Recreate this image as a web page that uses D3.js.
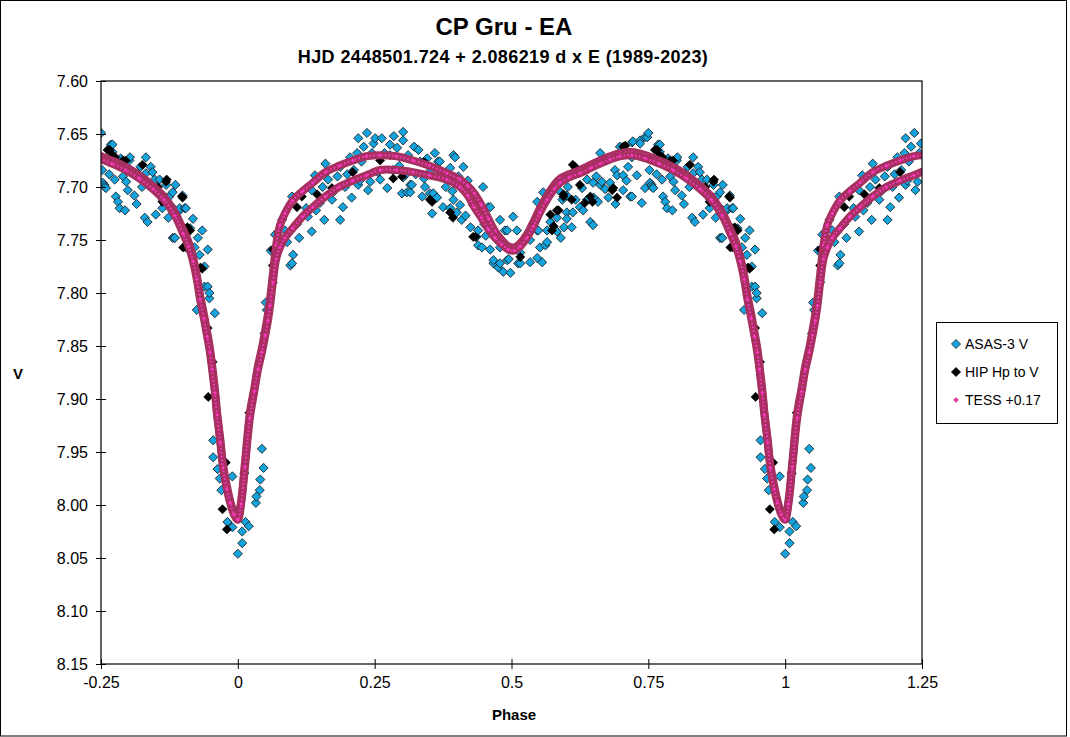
<!DOCTYPE html>
<html>
<head>
<meta charset="utf-8">
<script src="https://cdn.jsdelivr.net/npm/d3@7"></script>
<style>
  body { margin: 0; background: #fff; }
  svg { display: block; font-family: "Liberation Sans", Arial, sans-serif; }
</style>
</head>
<body>
<div id="chart"></div>
<script>

// axis ticks
var xTicks = [-0.25, 0, 0.25, 0.5, 0.75, 1, 1.25];
var yTicks = [7.60, 7.65, 7.70, 7.75, 7.80, 7.85, 7.90, 7.95, 8.00, 8.05, 8.10, 8.15];
var seriesNames = ["ASAS-3 V", "HIP Hp to V", "TESS +0.17"];

// ASAS-3 V, [phase 0..1, V]  (plotted again at phase-1 / phase+1)
var asas = [
  [0.000,8.046],[0.008,8.036],[0.008,8.025],[0.014,8.016],[0.020,8.020],[0.012,7.970],[0.033,7.998],
  [0.034,7.992],[0.040,7.986],[0.041,7.976],[0.047,7.965],[0.044,7.947],[0.049,7.838],[0.051,7.809],
  [0.053,7.816],[0.064,7.790],[0.955,7.939],[0.955,7.955],[0.963,7.966],[0.967,7.975],[0.970,7.986],
  [0.981,8.016],[0.990,8.021],[0.990,7.973],[0.958,7.819],[0.948,7.805],[0.945,7.794],[0.939,7.775],
  [0.945,7.759],[0.930,7.764],[0.921,7.757],[0.927,7.748],[0.913,7.739],[0.925,7.816],[0.885,7.748],
  [0.894,7.722],[0.903,7.720],[0.882,7.720],[0.074,7.742],[0.068,7.745],[0.086,7.741],[0.101,7.764],
  [0.099,7.772],[0.081,7.731],[0.096,7.774],[0.141,7.689],[0.099,7.709],[0.117,7.705],[0.135,7.703],
  [0.135,7.742],[0.187,7.731],[0.192,7.719],[0.208,7.710],[0.220,7.698],[0.187,7.681],[0.218,7.668],
  [0.220,7.654],[0.236,7.649],[0.251,7.654],[0.263,7.654],[0.248,7.659],[0.302,7.648],[0.302,7.656],
  [0.278,7.660],[0.291,7.663],[0.311,7.670],[0.278,7.670],[0.223,7.694],[0.242,7.695],[0.238,7.703],
  [0.260,7.693],[0.273,7.701],[0.300,7.706],[0.315,7.705],[0.318,7.698],[0.346,7.673],[0.369,7.676],
  [0.397,7.672],[0.412,7.681],[0.388,7.682],[0.337,7.709],[0.351,7.706],[0.364,7.710],[0.375,7.719],
  [0.355,7.725],[0.388,7.720],[0.406,7.717],[0.430,7.717],[0.448,7.700],[0.461,7.719],[0.436,7.747],
  [0.439,7.755],[0.461,7.759],[0.467,7.772],[0.485,7.780],[0.479,7.731],[0.492,7.741],[0.479,7.757],
  [0.155,7.700],[0.165,7.693],[0.172,7.712],[0.150,7.715],[0.125,7.720],[0.108,7.735],[0.160,7.678],
  [0.200,7.688],[0.205,7.672],[0.230,7.662],[0.268,7.668],[0.285,7.652],[0.295,7.680],[0.325,7.688],
  [0.330,7.665],[0.340,7.692],[0.360,7.668],[0.380,7.700],[0.420,7.694],[0.425,7.738],[0.450,7.735],
  [0.470,7.745],[0.495,7.768],[0.333,7.676],[0.366,7.676],[0.394,7.670],[0.302,7.691],[0.315,7.698],
  [0.309,7.705],[0.357,7.706],[0.373,7.687],[0.394,7.712],[0.400,7.724],[0.409,7.731],[0.457,7.719],
  [0.439,7.741],[0.446,7.757],[0.503,7.728],[0.488,7.741],[0.479,7.750],[0.467,7.769],[0.479,7.772],
  [0.492,7.769],[0.476,7.776],[0.498,7.781],[0.512,7.772],[0.516,7.762],[0.510,7.741],[0.534,7.750],
  [0.547,7.767],[0.534,7.771],[0.556,7.771],[0.552,7.757],[0.565,7.752],[0.549,7.741],[0.565,7.741],
  [0.558,7.705],[0.547,7.714],[0.583,7.742],[0.583,7.729],[0.601,7.724],[0.612,7.724],[0.601,7.730],
  [0.625,7.719],[0.629,7.701],[0.638,7.693],[0.649,7.696],[0.665,7.695],[0.680,7.696],[0.677,7.710],
  [0.644,7.733],[0.649,7.736],[0.662,7.668],[0.547,7.741],[0.562,7.755],[0.516,7.772],[0.586,7.703],
  [0.593,7.712],[0.601,7.708],[0.603,7.700],[0.638,7.712],[0.631,7.722],[0.650,7.710],[0.658,7.714],
  [0.662,7.698],[0.704,7.703],[0.720,7.709],[0.738,7.715],[0.693,7.689],[0.689,7.684],[0.713,7.681],
  [0.698,7.662],[0.720,7.658],[0.735,7.656],[0.750,7.649],[0.748,7.653],[0.768,7.660],[0.771,7.667],
  [0.786,7.673],[0.802,7.675],[0.832,7.672],[0.822,7.681],[0.844,7.686],[0.848,7.693],[0.869,7.698],
  [0.886,7.698],[0.881,7.705],[0.850,7.703],[0.869,7.710],[0.899,7.708],[0.894,7.720],[0.905,7.720],
  [0.830,7.729],[0.835,7.733],[0.881,7.748],[0.939,7.794],[0.948,7.800],[0.777,7.709],[0.784,7.720],
  [0.759,7.701],[0.744,7.653],[0.722,7.657],[0.735,7.659],[0.771,7.660],[0.720,7.672],[0.803,7.672],
  [0.785,7.676],[0.817,7.687],[0.832,7.687],[0.841,7.681],[0.836,7.696],[0.857,7.693],[0.875,7.709],
  [0.884,7.748],[0.704,7.689],[0.729,7.689],[0.753,7.696],[0.775,7.693],[0.796,7.695],[0.811,7.708],
  [0.781,7.714],[0.794,7.722],[0.799,7.703],[0.717,7.709],[0.744,7.701],[0.757,7.700],[0.850,7.726],
  [0.752,7.684],[0.756,7.698],[0.815,7.716],[0.862,7.720],[0.610,7.738],[0.590,7.748],
  [0.112,7.748],[0.128,7.728],[0.143,7.722],[0.158,7.731],[0.176,7.704],[0.182,7.690],[0.196,7.700],
  [0.212,7.684],[0.226,7.676],[0.245,7.668],[0.256,7.686],[0.283,7.684],[0.307,7.688],[0.322,7.662],
  [0.342,7.700],[0.353,7.684],[0.378,7.690],[0.392,7.704],[0.403,7.690],[0.416,7.727],[0.441,7.725],
  [0.453,7.746],[0.571,7.733],[0.596,7.738],[0.617,7.712],[0.655,7.690],[0.671,7.702],[0.690,7.716],
  [0.710,7.694],[0.765,7.688],[0.790,7.690],[0.825,7.700],[0.858,7.708],[0.873,7.729],[0.918,7.730],
  [0.935,7.741],[0.060,7.760],[0.090,7.752]
];

// HIP Hp converted to V
var hip = [
  [0.945,7.833],[0.954,7.865],[0.946,7.898],[0.021,7.913],[0.978,7.960],[0.972,8.004],[0.980,8.023],
  [0.900,7.757],[0.935,7.777],[0.064,7.774],[0.064,7.759],[0.117,7.709],[0.108,7.719],[0.172,7.701],
  [0.210,7.686],[0.260,7.675],[0.284,7.692],[0.339,7.677],[0.351,7.712],[0.388,7.724],[0.393,7.729],
  [0.430,7.747],[0.342,7.677],[0.355,7.714],[0.434,7.747],[0.516,7.766],[0.574,7.741],[0.583,7.722],
  [0.595,7.707],[0.610,7.712],[0.612,7.679],[0.625,7.698],[0.634,7.715],[0.684,7.703],[0.616,7.681],
  [0.686,7.701],[0.693,7.710],[0.704,7.662],[0.762,7.665],[0.790,7.675],[0.826,7.679],[0.854,7.700],
  [0.869,7.695],[0.863,7.712],[0.899,7.710],[0.903,7.739],[0.913,7.741],[0.905,7.757],[0.932,7.776],
  [0.586,7.722],[0.571,7.726],[0.577,7.737],[0.595,7.709],[0.644,7.709],[0.648,7.714],[0.708,7.661],
  [0.766,7.665],[0.771,7.670],[0.908,7.738],[0.776,7.672],[0.795,7.675],[0.870,7.693],[0.862,7.714],
  [0.898,7.709],[0.145,7.707],[0.300,7.690],[0.455,7.735]
];

// TESS +0.17, two tracks of the folded curve
var tessPhase = [0.000,0.006,0.013,0.022,0.030,0.037,0.044,0.050,0.055,0.059,0.064,0.070,0.077,0.086,
  0.100,0.118,0.137,0.160,0.185,0.210,0.235,0.260,0.290,0.320,0.350,0.382,0.406,0.420,0.432,0.445,0.458,
  0.470,0.482,0.494,0.505,0.516,0.528,0.540,0.552,0.565,0.578,0.589,0.605,0.625,0.645,0.662,0.680,0.698,
  0.720,0.745,0.770,0.795,0.820,0.845,0.865,0.885,0.900,0.910,0.918,0.925,0.931,0.938,0.944,0.949,0.953,
  0.958,0.962,0.968,0.973,0.980,0.986,0.993];
var tessUpper = [8.012,7.996,7.960,7.913,7.890,7.868,7.852,7.835,7.820,7.805,7.782,7.755,7.736,7.725,
  7.713,7.704,7.696,7.686,7.680,7.675,7.671,7.670,7.671,7.675,7.680,7.687,7.693,7.699,7.706,7.717,7.730,
  7.742,7.750,7.756,7.757,7.753,7.745,7.733,7.720,7.708,7.698,7.692,7.688,7.684,7.679,7.675,7.671,7.668,
  7.667,7.670,7.675,7.681,7.689,7.699,7.709,7.724,7.740,7.752,7.766,7.783,7.802,7.820,7.837,7.852,7.868,
  7.890,7.912,7.938,7.962,7.982,7.996,8.007];
var tessLower = [8.014,7.999,7.964,7.918,7.893,7.872,7.856,7.840,7.826,7.812,7.790,7.768,7.757,7.748,
  7.739,7.728,7.719,7.709,7.700,7.694,7.689,7.684,7.684,7.686,7.689,7.693,7.700,7.708,7.719,7.729,7.740,
  7.748,7.754,7.759,7.760,7.756,7.748,7.737,7.724,7.712,7.702,7.696,7.691,7.687,7.682,7.678,7.674,7.671,
  7.670,7.673,7.678,7.684,7.692,7.702,7.712,7.727,7.744,7.756,7.770,7.787,7.806,7.824,7.841,7.856,7.872,
  7.894,7.915,7.941,7.965,7.985,7.998,8.009];

var asasFill = "#14a3dc";
var tessDark = "#a6305f";
var tessPink = "#ff38c8";

var svg = d3.select("#chart").append("svg")
  .attr("width", 1070)
  .attr("height", 737);

// outer chart frame
svg.append("rect")
  .attr("x", 0.5).attr("y", 0.5)
  .attr("width", 1066).attr("height", 735.5)
  .attr("fill", "#fff").attr("stroke", "#000");

var x = d3.scaleLinear().domain([-0.25, 1.25]).range([101, 922]);
var y = d3.scaleLinear().domain([7.60, 8.15]).range([81, 664]);

svg.append("clipPath").attr("id", "plotclip")
  .append("rect").attr("x", 101).attr("y", 81).attr("width", 821).attr("height", 583);

// repeat a folded point at phase-1 and phase+1 inside the shown range
function fold(list, lo, hi){
  var out = [];
  list.forEach(function(d){
    [-1, 0, 1].forEach(function(k){
      var p = d[0] + k;
      if(p >= lo && p <= hi) out.push([p, d[1]]);
    });
  });
  return out.sort(function(a, b){ return a[0] - b[0]; });
}

function diamond(r){
  return "M0," + (-r) + "L" + r + ",0L0," + r + "L" + (-r) + ",0Z";
}

var plot = svg.append("g").attr("clip-path", "url(#plotclip)");

// ASAS
plot.selectAll(".asas")
  .data(fold(asas, -0.25, 1.25))
  .enter().append("path")
  .classed("asas", true)
  .attr("d", diamond(4.6))
  .attr("transform", function(d){ return "translate(" + x(d[0]) + "," + y(d[1]) + ")"; })
  .attr("fill", asasFill)
  .attr("stroke", "#111")
  .attr("stroke-width", 0.8);

// HIP
plot.selectAll(".hip")
  .data(fold(hip, -0.25, 1.25))
  .enter().append("path")
  .classed("hip", true)
  .attr("d", diamond(4.6))
  .attr("transform", function(d){ return "translate(" + x(d[0]) + "," + y(d[1]) + ")"; })
  .attr("fill", "#000")
  .attr("stroke", "#000")
  .attr("stroke-width", 0.6);

// TESS tracks
var line = d3.line()
  .x(function(d){ return x(d[0]); })
  .y(function(d){ return y(d[1]); })
  .curve(d3.curveCatmullRom);

[tessUpper, tessLower].forEach(function(mags){
  var pts = fold(tessPhase.map(function(p, i){ return [p, mags[i]]; }), -0.32, 1.32);
  plot.append("path")
    .attr("d", line(pts))
    .attr("fill", "none")
    .attr("stroke", tessDark)
    .attr("stroke-width", 8)
    .attr("stroke-linejoin", "round");
  plot.append("path")
    .attr("d", line(pts))
    .attr("fill", "none")
    .attr("stroke", tessPink)
    .attr("stroke-width", 2)
    .attr("stroke-dasharray", "1.6 2.2");
  plot.selectAll(null)
    .data(pts)
    .enter().append("path")
    .attr("d", diamond(2.2))
    .attr("transform", function(d){ return "translate(" + x(d[0]) + "," + y(d[1]) + ")"; })
    .attr("fill", tessPink)
    .attr("stroke", tessDark)
    .attr("stroke-width", 0.5);
});

// plot area box
svg.append("rect")
  .attr("x", 101).attr("y", 81)
  .attr("width", 821).attr("height", 583)
  .attr("fill", "none").attr("stroke", "#000").attr("stroke-width", 1.2);

// axes
var yAxis = svg.append("g")
  .attr("transform", "translate(101,0)")
  .call(d3.axisLeft(y).tickValues(yTicks).tickFormat(d3.format(".2f")).tickSize(5).tickPadding(8));
var xAxis = svg.append("g")
  .attr("transform", "translate(0,664)")
  .call(d3.axisBottom(x).tickValues(xTicks).tickFormat(function(d){ return String(d); }).tickSize(5));

[yAxis, xAxis].forEach(function(g){
  g.attr("font-family", null).attr("font-size", null);
  g.select(".domain").remove();
  g.selectAll(".tick text").attr("fill", "#000").style("font-size", "16px");
  g.selectAll(".tick line").attr("stroke", "#000");
});
yAxis.selectAll(".tick line").attr("x1", -5).attr("x2", 5);
xAxis.selectAll(".tick line").attr("y1", -5).attr("y2", 5);
xAxis.selectAll(".tick text").attr("y", 24).attr("dy", 0);

// titles
svg.append("text")
  .attr("x", 504).attr("y", 35)
  .attr("text-anchor", "middle")
  .style("font-size", "24px").style("font-weight", "bold")
  .text("CP Gru - EA");
svg.append("text")
  .attr("x", 503).attr("y", 63)
  .attr("text-anchor", "middle")
  .style("font-size", "18px").style("font-weight", "bold")
  .style("letter-spacing", "0.4px")
  .text("HJD 2448501.724 + 2.086219 d x E (1989-2023)");
svg.append("text")
  .attr("x", 514).attr("y", 720)
  .attr("text-anchor", "middle")
  .style("font-size", "15px").style("font-weight", "bold")
  .text("Phase");
svg.append("text")
  .attr("x", 18).attr("y", 379)
  .attr("text-anchor", "middle")
  .style("font-size", "15px").style("font-weight", "bold")
  .text("V");

// legend
var legend = svg.append("g");
legend.append("rect")
  .attr("x", 936.5).attr("y", 322.5)
  .attr("width", 121).attr("height", 101)
  .attr("fill", "#fff").attr("stroke", "#000");

var legendStyle = [
  { fill: asasFill, stroke: "#111", r: 4.6 },
  { fill: "#000", stroke: "#000", r: 4.6 },
  { fill: tessPink, stroke: tessDark, r: 2.4 }
];
var entry = legend.selectAll(".entry")
  .data(seriesNames)
  .enter().append("g")
  .attr("transform", function(d, i){ return "translate(956," + (344 + i * 28) + ")"; });
entry.append("path")
  .attr("d", function(d, i){ return diamond(legendStyle[i].r); })
  .attr("fill", function(d, i){ return legendStyle[i].fill; })
  .attr("stroke", function(d, i){ return legendStyle[i].stroke; })
  .attr("stroke-width", 0.7);
entry.append("text")
  .attr("x", 9).attr("dy", "0.36em")
  .style("font-size", "14px")
  .text(function(d){ return d; });

</script>
</body>
</html>
